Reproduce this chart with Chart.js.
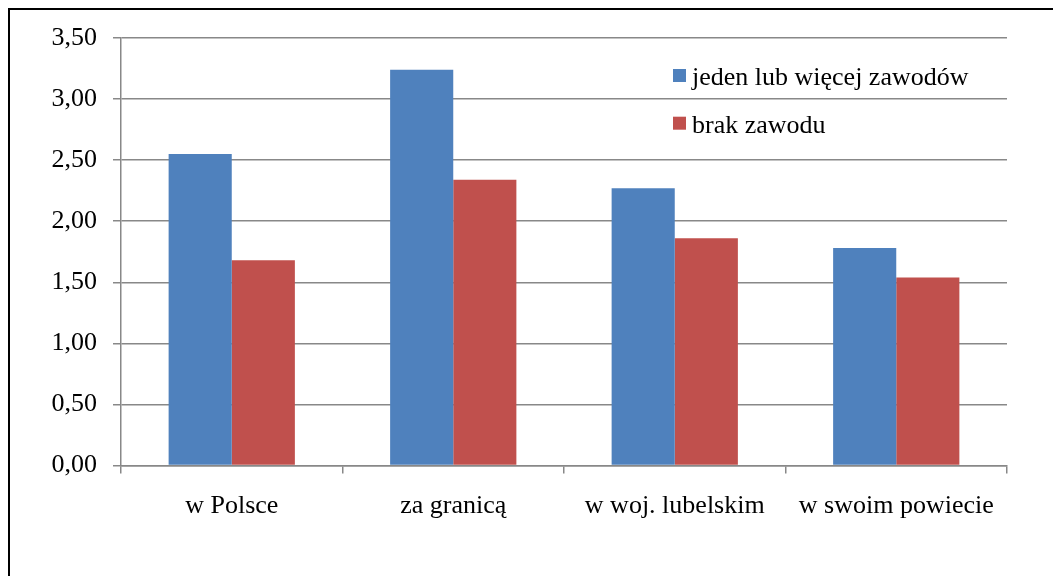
<!DOCTYPE html>
<html>
<head>
<meta charset="utf-8">
<script src="https://cdn.jsdelivr.net/npm/chart.js@4"></script>
<style>
html,body{margin:0;padding:0;background:#fff;}
#wrap{position:relative;width:1053px;height:576px;}
.pre{font-family:"Liberation Serif";position:absolute;left:-9999px;}
</style>
</head>
<body>
<span class="pre">ąęó preload</span>
<div id="wrap"><canvas id="c" width="1053" height="576"></canvas></div>
<script>
const categories = ['w Polsce', 'za granicą', 'w woj. lubelskim', 'w swoim powiecie'];
const seriesNames = ['jeden lub więcej zawodów', 'brak zawodu'];
const seriesOne = [2.55, 3.24, 2.27, 1.78];
const seriesTwo = [1.68, 2.34, 1.86, 1.54];
const yTicks = [0, 0.5, 1, 1.5, 2, 2.5, 3, 3.5];

const FONT = "'Liberation Serif', 'Times New Roman', Times, serif";
const FSIZE = 26;

const frame = {
  id: 'frame',
  beforeDraw(chart) {
    const ctx = chart.ctx;
    ctx.save();
    ctx.fillStyle = '#fff';
    ctx.fillRect(0, 0, chart.width, chart.height);
    ctx.fillStyle = '#000';
    ctx.fillRect(8, 8, chart.width - 8, 2);
    ctx.fillRect(8, 8, 2, chart.height - 8);
    ctx.restore();
  }
};

const innerLegend = {
  id: 'innerLegend',
  afterDraw(chart) {
    const ctx = chart.ctx;
    ctx.save();
    ctx.font = FSIZE + 'px ' + FONT;
    ctx.textBaseline = 'alphabetic';
    ctx.textAlign = 'left';
    chart.data.datasets.forEach((ds, i) => {
      const y = 69 + i * 47.7;
      ctx.fillStyle = ds.backgroundColor;
      ctx.fillRect(673, y, 13, 13);
      ctx.fillStyle = '#000';
      ctx.fillText(ds.label, 692, y + 16);
    });
    ctx.restore();
  }
};

function draw() {
  new Chart(document.getElementById('c'), {
    type: 'bar',
    data: {
      labels: categories,
      datasets: [
        { label: seriesNames[0], data: seriesOne, backgroundColor: '#4F81BD', borderWidth: 0 },
        { label: seriesNames[1], data: seriesTwo, backgroundColor: '#C0504D', borderWidth: 0 }
      ]
    },
    options: {
      responsive: false,
      animation: false,
      devicePixelRatio: 1,
      layout: { padding: { left: 0, top: 38, right: 46, bottom: 0 } },
      plugins: { legend: { display: false }, tooltip: { enabled: false } },
      datasets: { bar: { categoryPercentage: 0.57, barPercentage: 1 } },
      scales: {
        x: {
          afterFit(s) { s.height = 110.5; },
          grid: { offset: true, drawOnChartArea: false, drawTicks: true, tickLength: 8, color: '#888', lineWidth: 1.5 },
          border: { color: '#888', width: 1.5 },
          ticks: { color: '#000', font: { family: FONT, size: FSIZE }, padding: 17, maxRotation: 0, autoSkip: false }
        },
        y: {
          min: 0, max: 3.5,
          afterFit(s) { s.width = 121; },
          afterBuildTicks(s) { s.ticks = yTicks.map(v => ({ value: v })); },
          grid: { color: '#888', lineWidth: 1.5, tickLength: 8, drawTicks: true },
          border: { color: '#888', width: 1.5 },
          ticks: {
            color: '#000', font: { family: FONT, size: FSIZE }, padding: 16,
            callback: v => Number(v).toFixed(2).replace('.', ',')
          }
        }
      }
    },
    plugins: [frame, innerLegend]
  });
}

if (document.fonts && document.fonts.load) {
  document.fonts.load("26px 'Liberation Serif'", 'ąęó').then(draw, draw);
} else {
  draw();
}
</script>
</body>
</html>
